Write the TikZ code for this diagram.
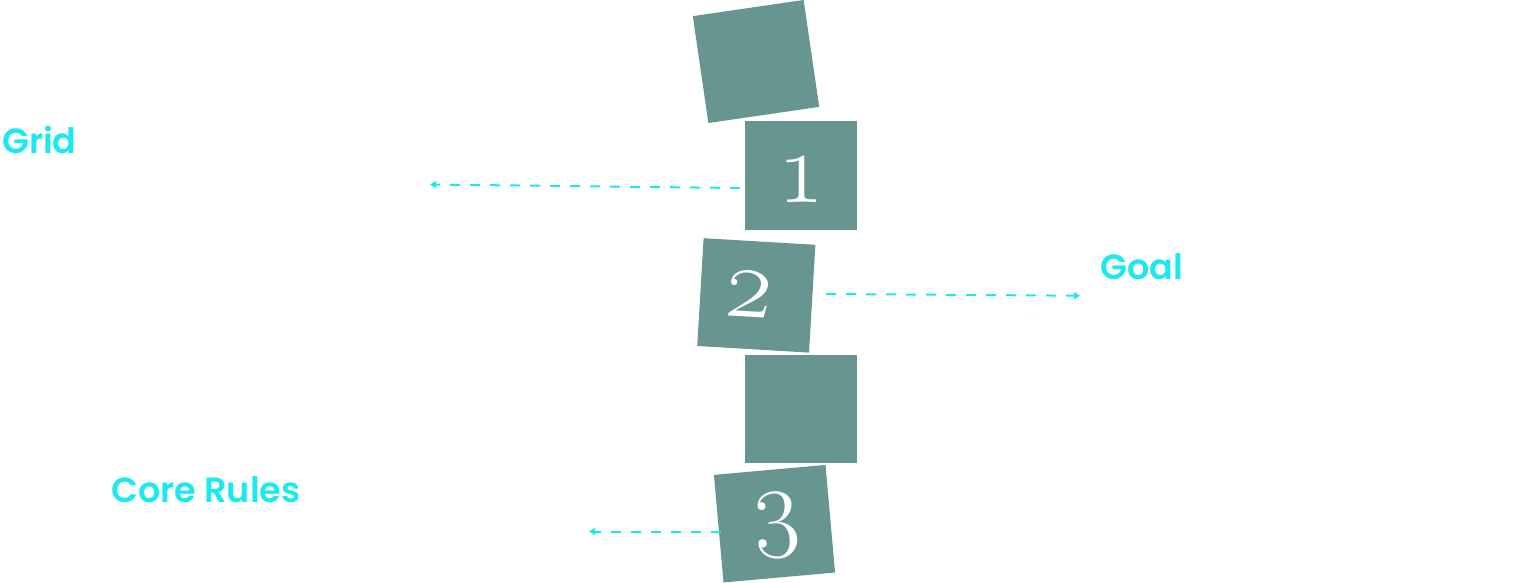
\documentclass[tikz,border=0pt]{standalone}
\usepackage{fontspec}
\newfontfamily\pop{Poppins}[UprightFont={* SemiBold}]
\newfontfamily\osf{Latin Modern Roman}[Numbers=OldStyle]
\usetikzlibrary{arrows.meta}
\definecolor{tealbox}{HTML}{67958F}
\definecolor{cyanline}{HTML}{1CE8EF}
\tikzset{
  card/.style={fill=tealbox, draw=none, minimum width=112pt, minimum height=108pt, inner sep=0pt},
  digit/.style={text=white, inner sep=0pt, anchor=base, font=\osf\fontsize{100}{100}\selectfont},
  lbl/.style={anchor=base west, inner sep=0pt, text=cyanline, font=\pop\fontsize{35}{40}\selectfont},
  arr/.style={draw=cyanline, line width=2pt, dash pattern=on 10pt off 10pt, -{Triangle[length=6pt,width=7pt]}}
}
\begin{document}
\begin{tikzpicture}[x=1pt,y=-1pt]
\useasboundingbox (0,0) rectangle (1528,583);
\node[card, rotate=8.3] (b0) at (756,61.5) {};
\node[card] (b1) at (800.5,175.5) {};
\node[digit] (n1) at (801.5,202) {1};
\node[card, rotate=-3.4] (b2) at (756.3,295.4) {};
\node[digit, rotate=-3.4] (n2) at (747.5,317) {2};
\node[card] (b4) at (800.8,408.8) {};
\node[card, rotate=5.1] (b3) at (774.5,523.7) {};
\node[digit, rotate=5.1] (n3) at (777.5,538) {3};
\node[lbl] (lgrid) at (2,153.3) {Grid};
\node[lbl] (lgoal) at (1100,279) {Goal};
\node[lbl] (lcore) at (111,502.7) {Core Rules};
\coordinate (s1) at (740,188);
\coordinate (e1) at (430,184.5);
\coordinate (s2) at (826,294);
\coordinate (e2) at (1080,295.7);
\coordinate (s3) at (721,531.5);
\coordinate (e3) at (589,531.5);
\draw[arr] (s1) -- (e1);
\draw[arr] (s2) -- (e2);
\draw[arr] (s3) -- (e3);
\end{tikzpicture}
\end{document}
